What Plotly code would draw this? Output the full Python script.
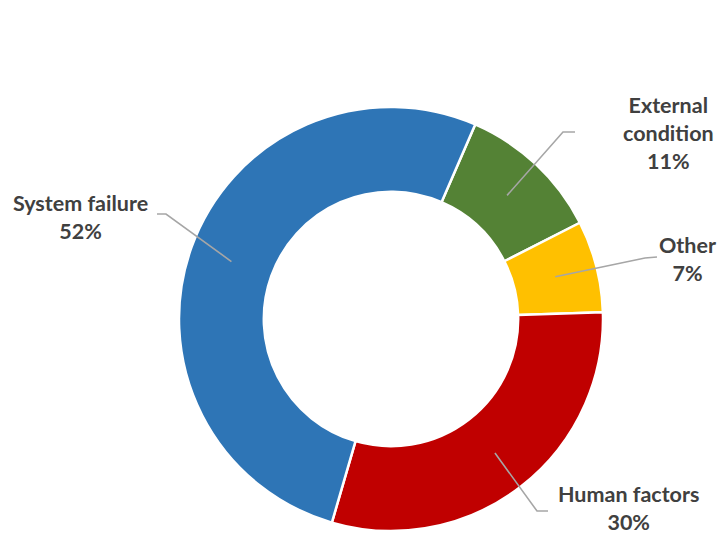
import math
import plotly.graph_objects as go

# Data
categories = ["External condition", "Other", "Human factors", "System failure"]
values = [11, 7, 30, 52]
colors = ["#548235", "#FFC000", "#C00000", "#2E75B6"]
label_lines = [["External", "condition"], ["Other"], ["Human factors"], ["System failure"]]

# Layout constants (pixels, in screen coordinates)
W, H = 725, 536
OFF = 8  # page body margin
CX, CY, R = 391, 319, 212
HOLE = 0.60
ROTATION = 23.4

# label block centres and leader elbow / end points (pixels)
label_pos = [(668, 133), (687, 259), (628, 508), (80, 217)]
elbows = [((563, 132), (575, 132)), ((645, 258), (657, 257)),
          ((537, 511), (548, 511)), ((166, 214), (157, 214))]


def px(x):
    return (x - OFF) / W


def py(y):
    return 1 - (y - OFF) / H


fig = go.Figure()
fig.add_trace(go.Pie(
    labels=categories, values=values, sort=False, direction="clockwise",
    rotation=ROTATION, hole=HOLE, textinfo="none", hoverinfo="label+percent",
    marker=dict(colors=colors, line=dict(color="white", width=2.5)),
    domain=dict(x=[px(CX - R), px(CX + R)], y=[py(CY + R), py(CY - R)]),
    showlegend=False,
))

total = sum(values)
cum = 0
shapes = []
annotations = []
for i, v in enumerate(values):
    mid = ROTATION + (cum + v / 2) / total * 360
    cum += v
    a = math.radians(mid)
    sx = CX + 0.8 * R * math.sin(a)
    sy = CY - 0.8 * R * math.cos(a)
    (ex, ey), (fx, fy) = elbows[i]
    path = f"M {px(sx)},{py(sy)} L {px(ex)},{py(ey)} L {px(fx)},{py(fy)}"
    shapes.append(dict(type="path", xref="paper", yref="paper", path=path,
                       line=dict(color="#A6A6A6", width=1.6)))
    pct = round(v / total * 100)
    text = "<br>".join(f"<b>{t}</b>" for t in label_lines[i]) + f"<br><b>{pct}%</b>"
    lx, ly = label_pos[i]
    annotations.append(dict(x=px(lx), y=py(ly), xref="paper", yref="paper",
                            text=text, showarrow=False, align="center",
                            xanchor="center", yanchor="middle",
                            font=dict(family="Lato", size=21.5, color="#404040")))

fig.update_layout(
    width=W, height=H, margin=dict(l=0, r=0, t=0, b=0),
    paper_bgcolor="white", plot_bgcolor="white",
    shapes=shapes, annotations=annotations,
)

fig.write_html("out.html")
